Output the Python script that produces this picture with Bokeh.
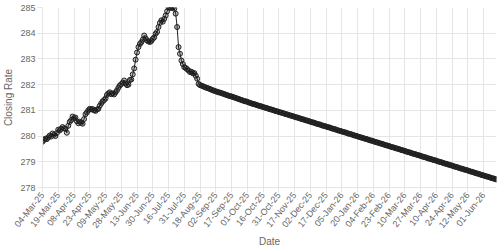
import math
from bokeh.plotting import figure
from bokeh.models import Range1d, FixedTicker
from bokeh.embed import file_html
from bokeh.resources import INLINE

# Closing rate per trading day (index = trading-day position)
closing_rate = [
    279.78, 279.85, 279.90, 279.88, 279.95, 280.02, 279.98, 280.10, 280.05, 280.00,
    280.12, 280.25, 280.22, 280.28, 280.35, 280.30, 280.28, 280.13, 280.40, 280.55,
    280.62, 280.76, 280.70, 280.72, 280.58, 280.50, 280.56, 280.52, 280.48, 280.66,
    280.85, 280.92, 281.00, 281.06, 281.04, 281.05, 281.00, 280.98, 281.03, 281.06,
    281.18, 281.27, 281.35, 281.40, 281.46, 281.60, 281.66, 281.70, 281.63, 281.66,
    281.62, 281.70, 281.78, 281.88, 281.97, 282.02, 282.08, 282.16, 282.05, 281.98,
    282.00, 282.18, 282.20, 282.40, 282.63, 282.97, 283.25, 283.46, 283.58, 283.65,
    283.75, 283.91, 283.80, 283.72, 283.68, 283.66, 283.70, 283.78, 283.84, 283.98,
    284.05, 284.24, 284.40, 284.50, 284.45, 284.56, 284.69, 284.85, 285.00, 285.00,
    284.98, 285.00, 284.95, 284.76, 284.24, 283.46, 283.20, 282.94, 282.80, 282.68,
    282.65, 282.60, 282.55, 282.49, 282.50, 282.44, 282.45, 282.35, 282.23, 282.03,
    281.98, 281.96, 281.94, 281.91, 281.89, 281.87, 281.85, 281.83, 281.80, 281.78,
    281.76, 281.74, 281.72, 281.70, 281.69, 281.67, 281.65, 281.63, 281.61, 281.59,
    281.57, 281.55, 281.54, 281.52, 281.50, 281.48, 281.46, 281.44, 281.42, 281.40,
    281.38, 281.36, 281.35, 281.33, 281.31, 281.29, 281.27, 281.25, 281.24, 281.22,
    281.20, 281.18, 281.17, 281.15, 281.13, 281.11, 281.10, 281.08, 281.06, 281.04,
    281.03, 281.01, 280.99, 280.97, 280.96, 280.94, 280.92, 280.91, 280.89, 280.87,
    280.85, 280.84, 280.82, 280.80, 280.79, 280.77, 280.75, 280.73, 280.72, 280.70,
    280.68, 280.66, 280.65, 280.63, 280.61, 280.60, 280.58, 280.56, 280.54, 280.53,
    280.51, 280.49, 280.47, 280.46, 280.44, 280.42, 280.40, 280.39, 280.37, 280.35,
    280.34, 280.32, 280.30, 280.28, 280.27, 280.25, 280.23, 280.21, 280.20, 280.18,
    280.16, 280.15, 280.13, 280.11, 280.09, 280.08, 280.06, 280.04, 280.02, 280.01,
    279.99, 279.97, 279.95, 279.94, 279.92, 279.90, 279.89, 279.87, 279.85, 279.83,
    279.82, 279.80, 279.78, 279.76, 279.75, 279.73, 279.71, 279.70, 279.68, 279.66,
    279.64, 279.63, 279.61, 279.59, 279.57, 279.56, 279.54, 279.52, 279.51, 279.49,
    279.47, 279.45, 279.44, 279.42, 279.40, 279.38, 279.37, 279.35, 279.33, 279.31,
    279.30, 279.28, 279.26, 279.25, 279.23, 279.21, 279.19, 279.18, 279.16, 279.14,
    279.12, 279.11, 279.09, 279.07, 279.06, 279.04, 279.02, 279.00, 278.99, 278.97,
    278.95, 278.93, 278.92, 278.90, 278.88, 278.87, 278.85, 278.83, 278.81, 278.80,
    278.78, 278.76, 278.74, 278.73, 278.71, 278.69, 278.68, 278.66, 278.64, 278.62,
    278.61, 278.59, 278.57, 278.55, 278.54, 278.52, 278.50, 278.48, 278.47, 278.45,
    278.43, 278.42, 278.40, 278.38, 278.36, 278.35, 278.33, 278.31,
]
day_index = list(range(len(closing_rate)))

# Date labels shown on the x axis (every 11th trading day)
tick_labels = [
    "04-Mar-25", "19-Mar-25", "08-Apr-25", "23-Apr-25", "09-May-25", "28-May-25",
    "13-Jun-25", "30-Jun-25", "16-Jul-25", "31-Jul-25", "18-Aug-25", "02-Sep-25",
    "17-Sep-25", "01-Oct-25", "16-Oct-25", "31-Oct-25", "17-Nov-25", "02-Dec-25",
    "17-Dec-25", "05-Jan-26", "20-Jan-26", "04-Feb-26", "23-Feb-26", "10-Mar-26",
    "27-Mar-26", "10-Apr-26", "24-Apr-26", "12-May-26", "01-Jun-26",
]
label_step = 11
tick_positions = [i * label_step for i in range(len(tick_labels))]
y_ticks = [278, 279, 280, 281, 282, 283, 284, 285]

FONT = "Liberation Sans"
TEXT = "#666666"
GRID = "#e5e5e5"

p = figure(width=500, height=250, output_backend="svg", toolbar_location=None,
           x_range=Range1d(0, len(closing_rate) - 1), y_range=Range1d(278, 285),
           min_border_left=39, min_border_right=4, min_border_top=7, min_border_bottom=63)
p.outline_line_color = None
p.background_fill_color = "white"
p.border_fill_color = "white"

p.line(day_index, closing_rate, line_color="#222222", line_width=1)
p.scatter(day_index, closing_rate, size=5, fill_color="black", fill_alpha=0.25,
          line_color="#222222", line_width=1)

xa = p.xaxis[0]
xa.ticker = FixedTicker(ticks=tick_positions)
xa.major_label_overrides = {pos: lab for pos, lab in zip(tick_positions, tick_labels)}
xa.major_label_orientation = math.radians(51)
xa.axis_label = "Date"

ya = p.yaxis[0]
ya.ticker = FixedTicker(ticks=y_ticks)
ya.axis_label = "Closing Rate"

for ax in (xa, ya):
    ax.axis_line_color = GRID
    ax.major_tick_line_color = GRID
    ax.major_tick_out = 5
    ax.major_tick_in = 0
    ax.minor_tick_line_color = None
    ax.major_label_text_font = FONT
    ax.major_label_text_font_size = "9px"
    ax.major_label_text_color = TEXT
    ax.major_label_standoff = 2
    ax.axis_label_text_font = FONT
    ax.axis_label_text_font_size = "10px"
    ax.axis_label_text_font_style = "normal"
    ax.axis_label_text_color = TEXT
    ax.axis_label_standoff = 3

xa.axis_label_standoff = 0
xa.major_label_standoff = 1

p.xgrid.grid_line_color = GRID
p.ygrid.grid_line_color = GRID

open("out.html", "w").write(file_html(p, INLINE))
